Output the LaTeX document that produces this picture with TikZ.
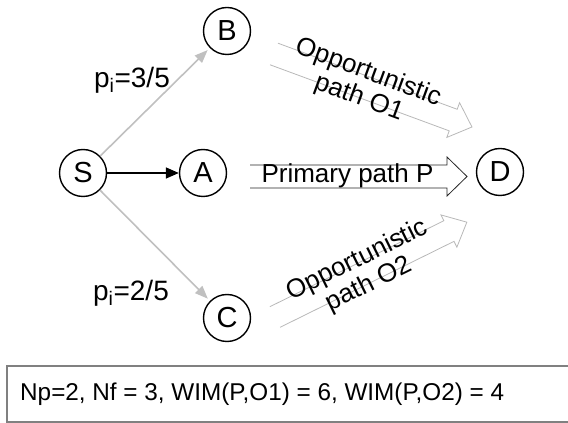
\documentclass[tikz,border=0pt]{standalone}
\usepackage{fontspec}
\setmainfont{Liberation Sans}
\usetikzlibrary{arrows.meta}
\definecolor{edgegray}{HTML}{C0C0C0}
\definecolor{outlinegray}{HTML}{B8B8B8}
\definecolor{boxgray}{HTML}{808080}
\tikzset{
  vertex/.style={circle, draw=black, line width=1.4pt, minimum size=47pt, inner sep=0pt, font=\fontsize{29}{32}\selectfont},
  grayedge/.style={draw=edgegray, line width=1.6pt, -{Triangle[length=13pt,width=10pt]}, shorten >=3pt},
  blackedge/.style={draw=black, line width=1.6pt, -{Triangle[length=13pt,width=11pt]}},
  lbl/.style={font=\fontsize{26}{30}\selectfont, inner sep=0pt},
  plbl/.style={font=\fontsize{28}{32}\selectfont, inner sep=0pt},
  infolbl/.style={font=\fontsize{24.3}{28}\selectfont, inner sep=0pt},
  pathlbl/.style={font=\fontsize{26}{27}\selectfont, align=center, inner sep=0pt},
  fatarrow/.style={line width=0.8pt, line join=miter}
}
\begin{document}
\begin{tikzpicture}[x=1pt,y=1pt]
\useasboundingbox (0,0) rectangle (568,423);
% nodes
\node[vertex] (S) at (83,250) {S};
\node[vertex] (A) at (203,250) {A};
\node[vertex] (B) at (227,392) {B};
\node[vertex] (C) at (227,105) {C};
\node[vertex] (D) at (500,251) {D};
% edges
\draw[blackedge] (S) -- (A);
\draw[grayedge] (S) -- (B);
\draw[grayedge] (S) -- (C);
% probability labels
\node[plbl] (pB) at (132,343) {p\textsubscript{i}=3/5};
\node[plbl] (pC) at (131,130) {p\textsubscript{i}=2/5};
% fat arrows
\begin{scope}[shift={(274,369)}, rotate=-20.24]
  \draw[fatarrow, draw=outlinegray] (0pt,11.5pt) -- (191pt,11.5pt) -- (191pt,18.5pt) -- (211pt,0pt) -- (191pt,-18.5pt) -- (191pt,-11.5pt) -- (0pt,-11.5pt);
\end{scope}
\begin{scope}[shift={(275,106)}, rotate=26.3]
  \draw[fatarrow, draw=outlinegray] (0pt,11.5pt) -- (194pt,11.5pt) -- (194pt,18pt) -- (214pt,0pt) -- (194pt,-18pt) -- (194pt,-11.5pt) -- (0pt,-11.5pt);
\end{scope}
\begin{scope}[shift={(250,246.5)}]
  \draw[fatarrow, draw=black!85] (0pt,11.5pt) -- (197pt,11.5pt) -- (197pt,19.5pt) -- (217pt,0pt) -- (197pt,-19.5pt) -- (197pt,-11.5pt) -- (0pt,-11.5pt);
\end{scope}
% path labels
\node[pathlbl, rotate=-20.24] (O1) at (363.5,337.5) {Opportunistic\\path O1};
\node[pathlbl, rotate=26.3] (O2) at (363.5,150.5) {Opportunistic\\path O2};
\node[lbl] (P) at (347.5,247) {Primary path P};
% bottom box
\draw[boxgray, line width=1.2pt] (568,57) -- (7,57) -- (7,1) -- (568,1);
\node[infolbl, anchor=west] (info) at (20,29) {Np=2, Nf = 3, WIM(P,O1) = 6, WIM(P,O2) = 4};
\end{tikzpicture}
\end{document}
